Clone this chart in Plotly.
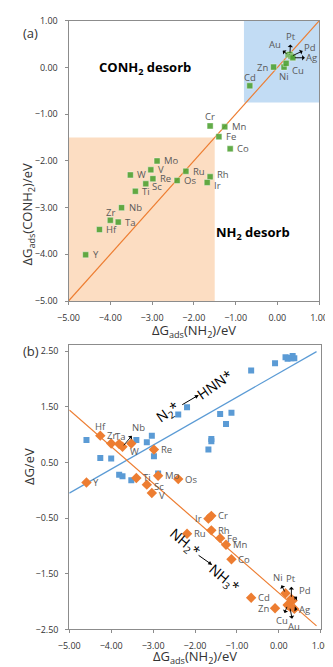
import numpy as np
import plotly.graph_objects as go

metals = ['Y', 'Hf', 'Zr', 'Ta', 'Nb', 'Ti', 'Sc', 'Re', 'W', 'V', 'Mo', 'Ru', 'Os', 'Rh',
          'Ir', 'Cr', 'Mn', 'Fe', 'Co', 'Cd', 'Zn', 'Ni', 'Cu', 'Au', 'Pt', 'Pd', 'Ag']
# dG_ads(NH2) / eV
g_nh2 = [-4.59, -4.26, -4.00, -3.81, -3.73, -3.40, -3.15, -2.98, -3.52, -3.03, -2.88, -2.19, -2.40, -1.61,
         -1.68, -1.61, -1.26, -1.40, -1.13, -0.66, -0.09, 0.16, 0.21, 0.26, 0.30, 0.33, 0.37]
# dG_ads(CONH2) / eV
g_conh2 = [-4.01, -3.47, -3.27, -3.31, -3.00, -2.65, -2.49, -2.38, -2.30, -2.19, -2.00, -2.22, -2.42, -2.34,
           -2.46, -1.25, -1.27, -1.48, -1.74, -0.39, 0.01, 0.01, 0.09, 0.27, 0.28, 0.24, 0.21]
# N2* -> HNN*
g_hnn = [0.90, 0.58, 0.57, 0.28, 0.25, 0.90, 0.86, 0.61, 0.18, 0.98, 0.30, 1.49, 1.36, 0.88,
         0.73, 0.92, 1.19, 1.37, 1.39, 2.15, 2.28, 2.39, 2.36, 2.38, 2.37, 2.41, 2.37]
# NH2* -> NH3*
g_nh3 = [0.14, 0.98, 0.84, 0.83, 0.78, 0.22, 0.10, 0.73, 0.84, -0.05, 0.26, -0.78, 0.20, -0.72,
         -0.51, -0.46, -0.98, -0.86, -1.24, -1.93, -2.12, -1.85, -2.06, -2.09, -1.95, -1.98, -2.13]

diag_x = [-5.0, 1.0]
fit_x = [-5.0, 0.9]
ticks_a = [-5, -4, -3, -2, -1, 0, 1]
ticks_b_y = [-2.5, -1.5, -0.5, 0.5, 1.5, 2.5]

ORANGE = '#ED7D31'
BLUE = '#5B9BD5'
GREEN = 'rgba(76,160,48,0.88)'
GREY = '#595959'
FONT = 'Open Sans'

fig = go.Figure()

# panel (a)
fig.add_shape(type='rect', xref='x', yref='y', x0=-5, x1=-1.5, y0=-5, y1=-1.5,
              fillcolor='#FCDDC2', line_width=0, layer='below')
fig.add_shape(type='rect', xref='x', yref='y', x0=-0.8, x1=1, y0=-0.75, y1=1,
              fillcolor='#C2DCF4', line_width=0, layer='below')
fig.add_trace(go.Scatter(x=diag_x, y=diag_x, mode='lines', line=dict(color=ORANGE, width=1.2),
                         xaxis='x', yaxis='y', hoverinfo='skip'))
fig.add_trace(go.Scatter(x=g_nh2, y=g_conh2, mode='markers', xaxis='x', yaxis='y', text=metals,
                         marker=dict(symbol='square', size=6, color=GREEN,
                                     line=dict(color='rgba(255,255,255,0.5)', width=0.8))))

# panel (b): least-squares trend lines
for yy, col in [(g_hnn, BLUE), (g_nh3, ORANGE)]:
    k, b = np.polyfit(g_nh2, yy, 1)
    fig.add_trace(go.Scatter(x=fit_x, y=[k * v + b for v in fit_x], mode='lines',
                             line=dict(color=col, width=1.2), xaxis='x2', yaxis='y2', hoverinfo='skip'))
fig.add_trace(go.Scatter(x=g_nh2, y=g_hnn, mode='markers', xaxis='x2', yaxis='y2', text=metals,
                         marker=dict(symbol='square', size=6, color=BLUE)))
fig.add_trace(go.Scatter(x=g_nh2, y=g_nh3, mode='markers', xaxis='x2', yaxis='y2', text=metals,
                         marker=dict(symbol='diamond', size=8, color=ORANGE)))

# label placement: (xanchor, xshift, yshift) or ('arrow', ax, ay)
off_a = {'Zr': ('center', 0, 8), 'Sc': ('left', 4, -3), 'Rh': ('left', 5, 2), 'Ir': ('left', 5, -3),
         'Cr': ('center', 0, 9), 'Cd': ('center', 0, 8), 'Zn': ('right', -4, 0), 'Ni': ('center', 0, -9),
         'Cu': ('left', 4, -7), 'Au': ('arrow', -13, -10), 'Pt': ('arrow', 1, -18),
         'Pd': ('arrow', 19, -9), 'Ag': ('arrow', 19, 0)}
off_b = {'Hf': ('center', 0, 9), 'Zr': ('center', 0, 8), 'Ta': ('center', 1, 8), 'Nb': ('arrow', 16, -19),
         'W': ('center', 3, -8), 'Sc': ('left', 5, -2), 'V': ('left', 5, -2), 'Ir': ('right', -4, 0),
         'Zn': ('right', -4, 0), 'Ni': ('arrow', -8, -16), 'Pt': ('arrow', 0, -20),
         'Pd': ('arrow', 12, -10), 'Ag': ('arrow', 10, 1), 'Cu': ('arrow', -6, 16), 'Au': ('arrow', 4, 20)}

annotations = []


def add_labels(xs, ys, offs, xr, yr):
    for m, xv, yv in zip(metals, xs, ys):
        kind, dx, dy = offs.get(m, ('left', 5, 0))
        if kind == 'arrow':
            annotations.append(dict(x=xv, y=yv, xref=xr, yref=yr, text=m, showarrow=True,
                                    ax=dx, ay=dy, arrowside='start', arrowhead=2, arrowsize=0.7,
                                    arrowwidth=0.9, arrowcolor='black', standoff=2,
                                    font=dict(size=9.5, color=GREY, family=FONT)))
        else:
            annotations.append(dict(x=xv, y=yv, xref=xr, yref=yr, text=m, showarrow=False,
                                    xanchor=kind, xshift=dx, yshift=dy,
                                    font=dict(size=9.5, color=GREY, family=FONT)))


add_labels(g_nh2, g_conh2, off_a, 'x', 'y')
add_labels(g_nh2, g_nh3, off_b, 'x2', 'y2')

big = dict(size=13, color='black', family=FONT)
title_font = dict(size=13, color='#333333', family=FONT)
annotations += [
    dict(x=-3.16, y=0.0, xref='x', yref='y', text='<b>CONH<sub>2</sub> desorb</b>', showarrow=False, font=big),
    dict(x=-0.58, y=-3.55, xref='x', yref='y', text='<b>NH<sub>2</sub> desorb</b>', showarrow=False, font=big),
    dict(x=-2.65, y=1.40, xref='x2', yref='y2', text='N<sub>2</sub>*', showarrow=False, textangle=-35,
         font=dict(size=14, color='black', family=FONT)),
    dict(x=-1.53, y=1.90, xref='x2', yref='y2', text='HNN*', showarrow=False, textangle=-35,
         font=dict(size=14, color='black', family=FONT)),
    dict(x=-1.91, y=1.71, ax=-2.34, ay=1.52, xref='x2', yref='y2', axref='x2', ayref='y2', text='',
         showarrow=True, arrowhead=2, arrowsize=0.8, arrowwidth=1, arrowcolor='black'),
    dict(x=-2.25, y=-0.93, xref='x2', yref='y2', text='NH<sub>2</sub>*', showarrow=False, textangle=40,
         font=dict(size=14, color='black', family=FONT)),
    dict(x=-1.31, y=-1.58, xref='x2', yref='y2', text='NH<sub>3</sub>*', showarrow=False, textangle=40,
         font=dict(size=14, color='black', family=FONT)),
    dict(x=-1.59, y=-1.34, ax=-1.95, ay=-1.15, xref='x2', yref='y2', axref='x2', ayref='y2', text='',
         showarrow=True, arrowhead=2, arrowsize=0.8, arrowwidth=1, arrowcolor='black'),
    # panel letters
    dict(x=0.005, y=1 - 7 / 667, xref='paper', yref='paper', text='(a)', showarrow=False, xanchor='left',
         font=dict(size=13, color='#333333', family=FONT)),
    dict(x=0.005, y=1 - 343 / 667, xref='paper', yref='paper', text='(b)', showarrow=False, xanchor='left',
         font=dict(size=13, color='#333333', family=FONT)),
    # axis titles
    dict(x=186 / 333, y=1 - 322 / 667, xref='paper', yref='paper', showarrow=False,
         text='\u0394G<sub>ads</sub>(NH<sub>2</sub>)/eV', font=title_font),
    dict(x=187 / 333, y=0, yanchor='bottom', xref='paper', yref='paper', showarrow=False,
         text='\u0394G<sub>ads</sub>(NH<sub>2</sub>)/eV', font=title_font),
    dict(x=0, xanchor='left', xshift=-3, y=1 - 149 / 667, xref='paper', yref='paper', showarrow=False,
         textangle=-90, text='\u0394G<sub>ads</sub>(CONH<sub>2</sub>)/eV', font=title_font),
    dict(x=0, xanchor='left', xshift=-1, y=1 - 482 / 667, xref='paper', yref='paper', showarrow=False,
         textangle=-90, text='\u0394G/eV', font=title_font),
]

axis_style = dict(showgrid=False, zeroline=False, showline=True, linecolor='#8C8C8C', linewidth=1,
                  mirror=True, ticks='outside', ticklen=3, tickcolor='#8C8C8C', tickformat='.2f',
                  ticklabelstandoff=5, tickfont=dict(size=9, color='#333333', family=FONT))

fig.update_layout(
    width=333, height=667, margin=dict(l=0, r=0, t=0, b=0),
    paper_bgcolor='white', plot_bgcolor='white', showlegend=False,
    xaxis=dict(axis_style, domain=[52.7 / 333, 319.3 / 333], range=[-5, 1], tickvals=ticks_a,
               anchor='y'),
    yaxis=dict(axis_style, domain=[1 - 291.7 / 667, 1 - 6 / 667], range=[-5, 1], tickvals=ticks_a,
               anchor='x'),
    xaxis2=dict(axis_style, domain=[53.5 / 333, 321 / 333], range=[-5, 1], tickvals=ticks_a,
                anchor='y2'),
    yaxis2=dict(axis_style, domain=[1 - 626.7 / 667, 1 - 337 / 667], range=[-2.5, 2.6],
                tickvals=ticks_b_y, anchor='x2'),
    annotations=annotations,
)

fig.write_html("out.html")
